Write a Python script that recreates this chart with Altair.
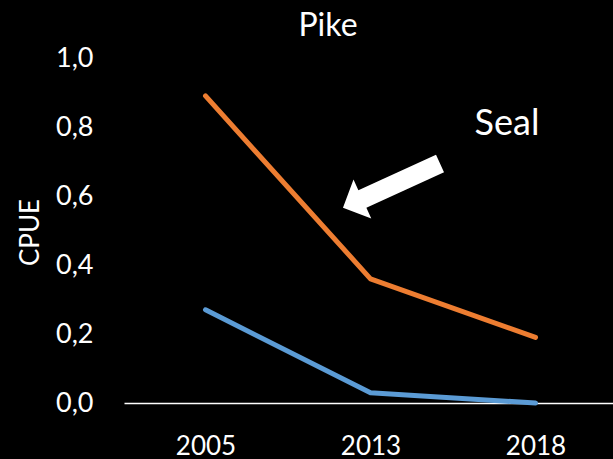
import altair as alt
import pandas as pd

# Catch per unit effort for pike, by survey year
years = ["2005", "2013", "2018"]
cpue_seal = [0.89, 0.36, 0.19]      # orange series
cpue_control = [0.27, 0.03, 0.00]   # blue series

series_names = ["seal", "control"]
series_colors = ["#ED7D31", "#5B9BD5"]

y_ticks = [0.0, 0.2, 0.4, 0.6, 0.8, 1.0]

FONT = "Lato"

df = pd.DataFrame(
    {
        "year": years * 2,
        "cpue": cpue_seal + cpue_control,
        "series": [series_names[0]] * len(years) + [series_names[1]] * len(years),
    }
)

x_enc = alt.X(
    "year:O",
    scale=alt.Scale(type="point", padding=0.4818, align=0.5126),
    axis=alt.Axis(
        title=None,
        domain=True,
        domainColor="#ffffff",
        domainWidth=1.5,
        ticks=False,
        tickSize=0,
        labelAngle=0,
        labelColor="#ffffff",
        labelFont=FONT,
        labelFontSize=26,
        labelPadding=30,
        labelBaseline="top",
        grid=False,
    ),
)

y_enc = alt.Y(
    "cpue:Q",
    scale=alt.Scale(domain=[0, 1], nice=False, zero=True),
    axis=alt.Axis(
        title="CPUE",
        titleColor="#ffffff",
        titleFont=FONT,
        titleFontSize=26,
        titleFontWeight="normal",
        titleAngle=270,
        titleBaseline="alphabetic",
        titleX=-86,
        titleY=174,
        values=y_ticks,
        labelExpr="replace(format(datum.value, '.1f'), '.', ',')",
        labelColor="#ffffff",
        labelFont=FONT,
        labelFontSize=27,
        labelPadding=31,
        domain=False,
        ticks=False,
        tickSize=0,
        grid=False,
    ),
)

lines = (
    alt.Chart(df)
    .mark_line(strokeWidth=5, strokeCap="round", strokeJoin="round")
    .encode(
        x=x_enc,
        y=y_enc,
        color=alt.Color(
            "series:N",
            scale=alt.Scale(domain=series_names, range=series_colors),
            legend=None,
        ),
    )
)

# Block arrow pointing at the orange series, drawn as a custom symbol
arrow_path = (
    "M -1 0 L -0.6 -0.4 L -0.6 -0.18 L 1 -0.18 L 1 0.18 "
    "L -0.6 0.18 L -0.6 0.4 Z"
)
arrow = (
    alt.Chart()
    .mark_point(
        shape=arrow_path,
        filled=True,
        color="#ffffff",
        opacity=1,
        size=11390,
        angle=335.4,
        strokeWidth=0,
    )
    .encode(x=alt.value(267.5), y=alt.datum(0.63))
)

label = (
    alt.Chart()
    .mark_text(
        text="Seal",
        color="#ffffff",
        font=FONT,
        fontSize=36,
        align="center",
        baseline="middle",
    )
    .encode(x=alt.value(383), y=alt.datum(0.81))
)

chart = (
    alt.layer(lines, arrow, label)
    .properties(
        width=489,
        height=345,
        padding={"left": 124, "top": 58, "right": 0, "bottom": 56},
        autosize=alt.AutoSizeParams(type="none"),
        background="#000000",
        title=alt.TitleParams(
            "Pike",
            color="#ffffff",
            font=FONT,
            fontSize=32,
            fontWeight="normal",
            anchor="middle",
            baseline="alphabetic",
            offset=-24,
            dx=-40.5,
        ),
    )
    .configure_view(stroke=None)
)

chart.save("out.html", embed_options={"renderer": "svg", "actions": False})
